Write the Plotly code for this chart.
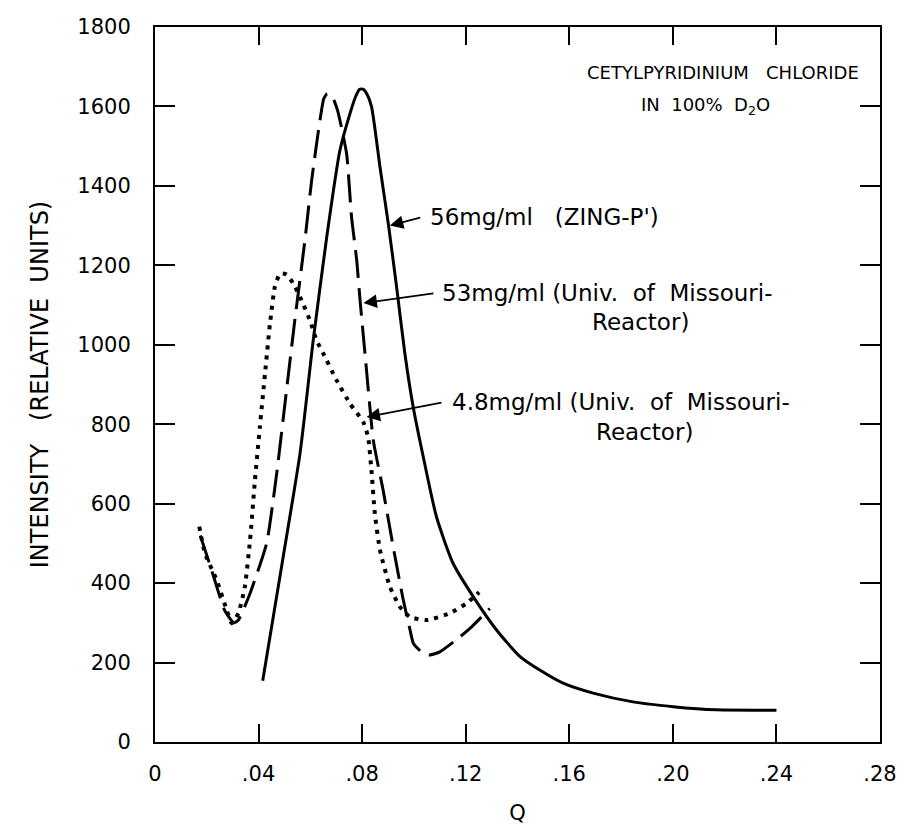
import plotly.graph_objects as go

# ---- data ----
solid_q = [0.0416, 0.0495, 0.056, 0.0611, 0.0663, 0.0714, 0.0753, 0.0775, 0.079, 0.0805, 0.0818,
           0.0836, 0.0869, 0.0901, 0.0933, 0.0965, 0.0997, 0.1036, 0.1087, 0.1151, 0.1229, 0.1319,
           0.141, 0.1486, 0.1576, 0.1692, 0.1846, 0.2001, 0.2168, 0.24]
solid_i = [154, 466, 726, 1011, 1270, 1489, 1582, 1625, 1643, 1643, 1632,
           1600, 1447, 1305, 1146, 978, 844, 718, 567, 450, 366, 282,
           215, 181, 148, 123, 101, 89, 81, 80]

dashed_q = [0.0175, 0.022, 0.027, 0.0305, 0.0322, 0.0367, 0.0431, 0.047, 0.0508, 0.054, 0.0579,
            0.0605, 0.0637, 0.0652, 0.0665, 0.0682, 0.0705, 0.074, 0.0759, 0.0779, 0.0792, 0.0811,
            0.0843, 0.0881, 0.092, 0.0959, 0.0985, 0.0998, 0.1036, 0.1062, 0.11, 0.1178, 0.1223, 0.1293]
dashed_i = [520, 430, 330, 300, 307, 374, 500, 676, 886, 1062, 1263,
            1414, 1565, 1620, 1632, 1628, 1590, 1481, 1322, 1213, 1112, 978,
            760, 634, 491, 357, 282, 248, 223, 219, 227, 265, 290, 336]

dotted_q = [0.0171, 0.0193, 0.0238, 0.0277, 0.0296, 0.0322, 0.0347, 0.0367, 0.0386, 0.0405, 0.0425,
            0.0444, 0.0463, 0.0483, 0.0508, 0.0534, 0.0566, 0.0598, 0.0624, 0.065, 0.0701, 0.0753,
            0.0804, 0.0823, 0.0837, 0.0849, 0.0869, 0.0907, 0.0946, 0.0984, 0.105, 0.1139, 0.1203, 0.1252]
dotted_i = [542, 475, 408, 332, 299, 324, 391, 508, 659, 793, 928,
            1053, 1146, 1179, 1177, 1154, 1112, 1062, 1011, 978, 911, 852,
            806, 768, 676, 575, 483, 391, 340, 315, 307, 324, 349, 377]

x_tickvals = [0, 0.04, 0.08, 0.12, 0.16, 0.20, 0.24, 0.28]
x_ticktext = ["0", ".04", ".08", ".12", ".16", ".20", ".24", ".28"]
y_tickvals = [0, 200, 400, 600, 800, 1000, 1200, 1400, 1600, 1800]

FONT = "DejaVu Sans"
S = "&nbsp;"

fig = go.Figure()
fig.add_trace(go.Scatter(x=solid_q, y=solid_i, mode="lines",
                         line=dict(color="black", width=3, shape="spline", smoothing=0.6),
                         name="56mg/ml (ZING-P')"))
fig.add_trace(go.Scatter(x=dashed_q, y=dashed_i, mode="lines",
                         line=dict(color="black", width=3, dash="28px,10px", shape="spline", smoothing=0.5),
                         name="53mg/ml"))
fig.add_trace(go.Scatter(x=dotted_q, y=dotted_i, mode="lines",
                         line=dict(color="black", width=4, dash="4px,6px", shape="spline", smoothing=0.5),
                         name="4.8mg/ml"))

ann = []
title_font = dict(family=FONT, size=18, color="black")
ann.append(dict(x=0.2193, y=1686, xref="x", yref="y", showarrow=False,
                text="CETYLPYRIDINIUM" + S * 3 + "CHLORIDE", font=title_font))
ann.append(dict(x=0.2125, y=1602, xref="x", yref="y", showarrow=False,
                text="IN" + S * 2 + "100%" + S * 2 + "D<sub>2</sub>O", font=title_font))

lab_font = dict(family=FONT, size=23, color="black")
ann.append(dict(x=0.1054, y=1321, xref="x", yref="y", xanchor="left", showarrow=False,
                text="56mg/ml" + S * 3 + "(ZING-P')", font=lab_font))
ann.append(dict(x=0.110, y=1130, xref="x", yref="y", xanchor="left", showarrow=False,
                text="53mg/ml" + S + "(Univ." + S * 2 + "of" + S * 2 + "Missouri-", font=lab_font))
ann.append(dict(x=0.1876, y=1057, xref="x", yref="y", showarrow=False,
                text="Reactor)", font=lab_font))
ann.append(dict(x=0.1139, y=855, xref="x", yref="y", xanchor="left", showarrow=False,
                text="4.8mg/ml" + S + "(Univ." + S * 2 + "of" + S * 2 + "Missouri-", font=lab_font))
ann.append(dict(x=0.1891, y=780, xref="x", yref="y", showarrow=False,
                text="Reactor)", font=lab_font))

# arrows
for (tx, ty, sx, sy) in [(0.0907, 1300, 0.1030, 1321),
                         (0.0805, 1105, 0.1081, 1130),
                         (0.0817, 818, 0.1112, 855)]:
    ann.append(dict(x=tx, y=ty, xref="x", yref="y", ax=sx, ay=sy, axref="x", ayref="y",
                    text="", showarrow=True, arrowhead=2, arrowsize=1.5, arrowwidth=1.8,
                    arrowcolor="black", standoff=0, startstandoff=0))

fig.update_layout(
    width=907, height=828,
    margin=dict(l=155, r=27, t=27, b=86),
    paper_bgcolor="white", plot_bgcolor="white",
    showlegend=False,
    font=dict(family=FONT, size=20, color="black"),
    annotations=ann,
)
fig.update_xaxes(range=[0, 0.28], tickvals=x_tickvals, ticktext=x_ticktext,
                 ticks="inside", ticklen=18, tickwidth=2, tickcolor="black",
                 showline=True, linecolor="black", linewidth=2, mirror="ticks",
                 showgrid=False, zeroline=False, ticklabelstandoff=12, automargin=False,
                 tickfont=dict(family=FONT, size=21, color="black"),
                 title=dict(text="Q", font=dict(family=FONT, size=21, color="black"), standoff=20))
fig.update_yaxes(range=[0, 1800], tickvals=y_tickvals,
                 ticks="inside", ticklen=20, tickwidth=2, tickcolor="black",
                 showline=True, linecolor="black", linewidth=2, mirror="ticks",
                 showgrid=False, zeroline=False, ticklabelstandoff=18, automargin=False,
                 tickfont=dict(family=FONT, size=21, color="black"),
                 title=dict(text="INTENSITY" + S * 3 + "(RELATIVE" + S * 2 + "UNITS)",
                            font=dict(family=FONT, size=24, color="black"), standoff=22))

fig.write_html("out.html")
